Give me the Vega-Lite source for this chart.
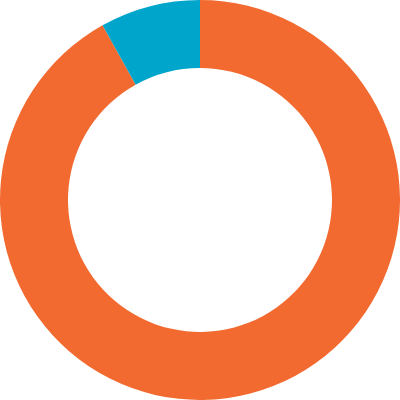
{
  "$schema": "https://vega.github.io/schema/vega-lite/v6.json",
  "width": 400,
  "height": 400,
  "autosize": {"type": "fit", "contains": "padding"},
  "padding": 0,
  "view": {"stroke": null},
  "data": {
    "values": [
      {"category": "A", "value": 91.9, "order": 1},
      {"category": "B", "value": 8.1, "order": 2}
    ]
  },
  "mark": {"type": "arc", "outerRadius": 200, "innerRadius": 132},
  "encoding": {
    "theta": {"field": "value", "type": "quantitative", "stack": true},
    "order": {"field": "order", "type": "quantitative"},
    "color": {
      "field": "category",
      "type": "nominal",
      "scale": {"domain": ["A", "B"], "range": ["#F26A30", "#00A5CC"]},
      "legend": null
    }
  }
}
